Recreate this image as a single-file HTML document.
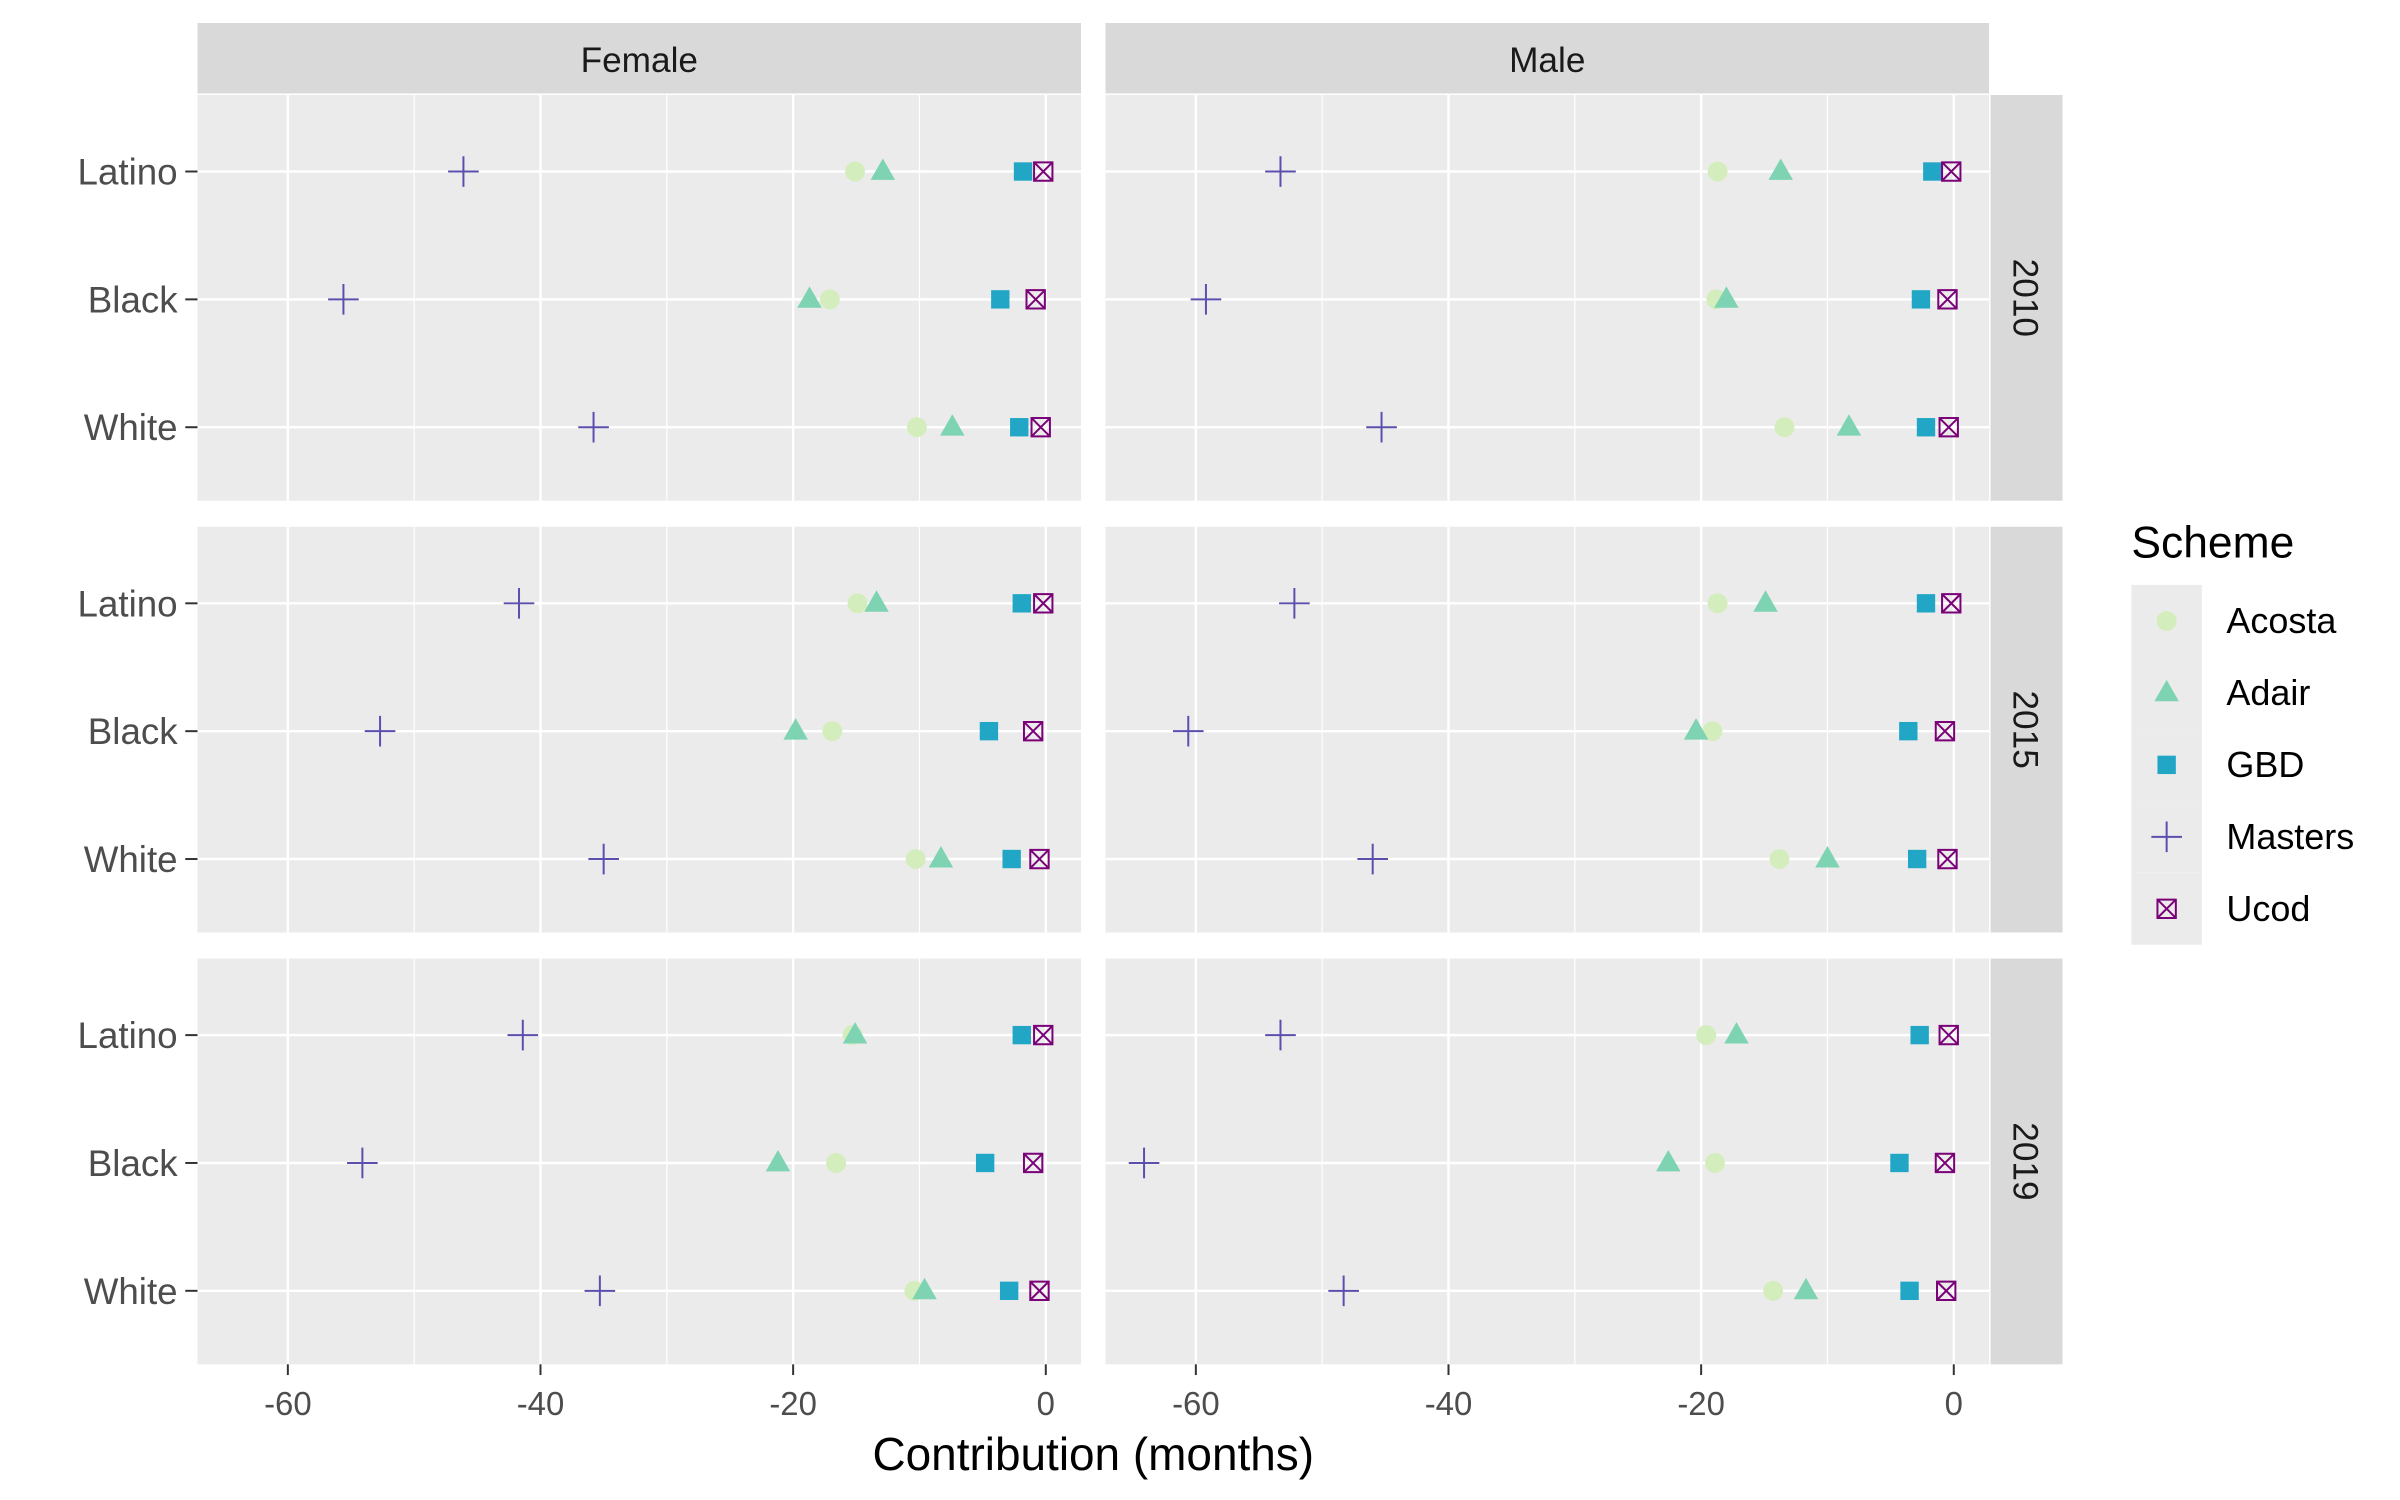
<!DOCTYPE html>
<html><head><meta charset="utf-8"><style>
html,body{margin:0;padding:0;background:#fff}
svg{display:block}
text{font-family:"Liberation Sans",Arial,sans-serif}
</style></head><body>
<svg id="chart" width="2400" height="1500" viewBox="0 0 1567.4 979.6" xmlns="http://www.w3.org/2000/svg"></svg>
<script>
const sexes = ["Female","Male"];
const years = ["2010","2015","2019"];
const races = ["Latino","Black","White"];
const schemes = ["Acosta","Adair","GBD","Masters","Ucod"];
const xTicks = [-60,-40,-20,0];
const xTickLabels = ["-60","-40","-20","0"];
// values[year][sex][race] = [Acosta, Adair, GBD, Masters, Ucod]
const v2010F = [[-15.1,-12.9,-1.8,-46.1,-0.2],[-17.1,-18.7,-3.6,-55.6,-0.8],[-10.2,-7.4,-2.1,-35.8,-0.4]];
const v2010M = [[-18.7,-13.7,-1.7,-53.3,-0.2],[-18.8,-18.0,-2.6,-59.2,-0.5],[-13.4,-8.3,-2.2,-45.3,-0.4]];
const v2015F = [[-14.9,-13.4,-1.9,-41.7,-0.2],[-16.9,-19.8,-4.5,-52.7,-1.0],[-10.3,-8.3,-2.7,-35.0,-0.5]];
const v2015M = [[-18.7,-14.9,-2.2,-52.2,-0.2],[-19.1,-20.4,-3.6,-60.6,-0.7],[-13.8,-10.0,-2.9,-46.0,-0.5]];
const v2019F = [[-15.3,-15.1,-1.9,-41.4,-0.2],[-16.6,-21.2,-4.8,-54.1,-1.0],[-10.4,-9.6,-2.9,-35.3,-0.5]];
const v2019M = [[-19.6,-17.2,-2.7,-53.3,-0.4],[-18.9,-22.6,-4.3,-64.1,-0.7],[-14.3,-11.7,-3.5,-48.3,-0.6]];
const values = [[v2010F,v2010M],[v2015F,v2015M],[v2019F,v2019M]];
const colors = {Acosta:"#d4edbc",Adair:"#7dd3b2",GBD:"#22a6c6",Masters:"#5b4fae",Ucod:"#7a0177"};

const NS="http://www.w3.org/2000/svg";
const svg=document.getElementById("chart");
function mk(tag,attrs,parent){const e=document.createElementNS(NS,tag);for(const k in attrs)e.setAttribute(k,attrs[k]);(parent||svg).appendChild(e);return e;}
const panelX=[129,722], panelW=577, panelY=[62,344,626], panelH=265;
const xMin=-67.15, xMax=2.79;
function xs(p,val){return panelX[p]+(val-xMin)/(xMax-xMin)*panelW;}
function ys(r,i){return panelY[r]+50+i*83.5;}

function marker(g,s,x,y){
  const c=colors[s];
  let e;
  if(s==="Acosta"){e=mk("circle",{cx:x,cy:y,r:6.5,fill:c},g);}
  else if(s==="Adair"){e=mk("polygon",{points:`${x},${y-8.5} ${x+8},${y+5.5} ${x-8},${y+5.5}`,fill:c},g);}
  else if(s==="GBD"){e=mk("rect",{x:x-6,y:y-6,width:12,height:12,fill:c},g);}
  else if(s==="Masters"){e=mk("path",{d:`M${x-10},${y}H${x+10}M${x},${y-10}V${y+10}`,stroke:c,"stroke-width":1.3,fill:"none"},g);}
  else {e=mk("path",{d:`M${x-6},${y-6}h12v12h-12zM${x-6},${y-6}l12,12M${x+6},${y-6}l-12,12`,stroke:c,"stroke-width":1.3,fill:"none"},g);}
  return e;
}

sexes.forEach((s,p)=>{
  const st=mk("rect",{x:panelX[p],y:15,width:panelW,height:46,fill:"#d9d9d9"});
  
  
  const t=mk("text",{x:panelX[p]+panelW/2,y:47,"text-anchor":"middle","font-size":23,fill:"#1a1a1a"});
  t.textContent=s;
  
  
});
years.forEach((yr,r)=>{
  const st=mk("rect",{x:1300,y:panelY[r],width:47,height:panelH,fill:"#d9d9d9"});
  
  
  const cy=panelY[r]+panelH/2;
  const t=mk("text",{x:1323,y:cy,"text-anchor":"middle","font-size":23,fill:"#1a1a1a",transform:`rotate(90 1323 ${cy}) translate(0 8)`});
  t.textContent=yr;
  
  
});

years.forEach((yr,r)=>{
  sexes.forEach((s,p)=>{
    const g=mk("g",{});
    
    
    mk("rect",{x:panelX[p],y:panelY[r],width:panelW,height:panelH,fill:"#ebebeb"},g);
    [-50,-30,-10].forEach(m=>mk("line",{x1:xs(p,m),x2:xs(p,m),y1:panelY[r],y2:panelY[r]+panelH,stroke:"#fff","stroke-width":0.8},g));
    xTicks.forEach(t=>mk("line",{x1:xs(p,t),x2:xs(p,t),y1:panelY[r],y2:panelY[r]+panelH,stroke:"#fff","stroke-width":1.6},g));
    races.forEach((rc,i)=>mk("line",{x1:panelX[p],x2:panelX[p]+panelW,y1:ys(r,i),y2:ys(r,i),stroke:"#fff","stroke-width":1.6},g));
    races.forEach((rc,i)=>{
      schemes.forEach((sc,k)=>{
        const m=marker(g,sc,xs(p,values[r][p][i][k]),ys(r,i));
        
        
      });
    });
  });
  races.forEach((rc,i)=>{
    const y=ys(r,i);
    mk("line",{x1:121,x2:129,y1:y,y2:y,stroke:"#333","stroke-width":1.3});
    const t=mk("text",{x:116,y:y+8.5,"text-anchor":"end","font-size":24,fill:"#4d4d4d"});
    t.textContent=rc;
    
    
  });
});
sexes.forEach((s,p)=>{
  xTicks.forEach((t,j)=>{
    const x=xs(p,t);
    mk("line",{x1:x,x2:x,y1:891,y2:898,stroke:"#333","stroke-width":1.3});
    const tx=mk("text",{x:x,y:924,"text-anchor":"middle","font-size":21.5,fill:"#4d4d4d"});
    tx.textContent=xTickLabels[j];
    
    
  });
});
const xt=mk("text",{x:714,y:960,"text-anchor":"middle","font-size":30,fill:"#000"});
xt.textContent="Contribution (months)";


const lg=mk("g",{});


const lt=mk("text",{x:1392,y:364,"font-size":29,fill:"#000"},lg);
lt.textContent="Scheme";
schemes.forEach((sc,k)=>{
  const y=382+k*47;
  mk("rect",{x:1392,y:y,width:46,height:47,fill:"#ebebeb"},lg);
  const m=marker(lg,sc,1415,y+23.5);
  
  
  const t=mk("text",{x:1454,y:y+31.5,"font-size":23.5,fill:"#000"},lg);
  t.textContent=sc;
  
  
});
</script>
</body></html>
